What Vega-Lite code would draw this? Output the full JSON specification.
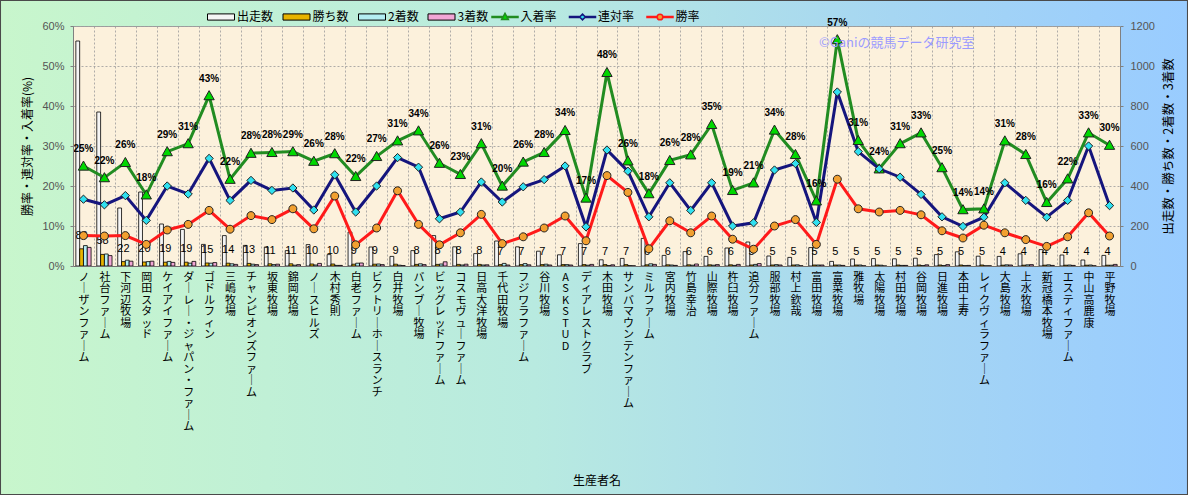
{
  "$schema": "https://vega.github.io/schema/vega-lite/v6.json",
  "width": 1047,
  "height": 240,
  "autosize": {"type": "none"},
  "padding": {"left": 73, "top": 26, "right": 68, "bottom": 229},
  "background": "#b8eae0",
  "config": {
    "view": {"fill": "#fcf1dc", "stroke": "#a0a0a0"},
    "font": "Noto Sans CJK JP",
    "text": {"font": "Noto Sans CJK JP"},
    "legend": {"labelFont": "Noto Sans CJK JP", "labelFontSize": 12, "labelColor": "#000000"},
    "axis": {"titleFont": "Noto Sans CJK JP", "labelFont": "Noto Sans CJK JP"}
  },
  "data": {
    "values": [
      {"生産者": "ノーザンファーム", "出走数": 1125, "勝ち数": 86, "2着数": 102, "3着数": 93, "勝率": 0.076, "連対率": 0.167, "入着率": 0.250},
      {"生産者": "社台ファーム", "出走数": 770, "勝ち数": 58, "2着数": 60, "3着数": 52, "勝率": 0.075, "連対率": 0.153, "入着率": 0.221},
      {"生産者": "下河辺牧場", "出走数": 290, "勝ち数": 22, "2着数": 29, "3着数": 24, "勝率": 0.076, "連対率": 0.176, "入着率": 0.259},
      {"生産者": "岡田スタッド", "出走数": 370, "勝ち数": 20, "2着数": 22, "3着数": 24, "勝率": 0.054, "連対率": 0.114, "入着率": 0.178},
      {"生産者": "ケイアイファーム", "出走数": 210, "勝ち数": 19, "2着数": 23, "3着数": 18, "勝率": 0.090, "連対率": 0.200, "入着率": 0.286},
      {"生産者": "ダーレー・ジャパン・ファーム", "出走数": 183, "勝ち数": 19, "2着数": 14, "3着数": 23, "勝率": 0.104, "連対率": 0.180, "入着率": 0.306},
      {"生産者": "ゴドルフィン", "出走数": 108, "勝ち数": 15, "2着数": 14, "3着数": 17, "勝率": 0.139, "連対率": 0.269, "入着率": 0.426},
      {"生産者": "三嶋牧場", "出走数": 152, "勝ち数": 14, "2着数": 11, "3着数": 8, "勝率": 0.092, "連対率": 0.164, "入着率": 0.217},
      {"生産者": "チャンピオンズファーム", "出走数": 103, "勝ち数": 13, "2着数": 9, "3着数": 7, "勝率": 0.126, "連対率": 0.214, "入着率": 0.282},
      {"生産者": "坂東牧場", "出走数": 95, "勝ち数": 11, "2着数": 7, "3着数": 9, "勝率": 0.116, "連対率": 0.189, "入着率": 0.284},
      {"生産者": "錦岡牧場", "出走数": 77, "勝ち数": 11, "2着数": 4, "3着数": 7, "勝率": 0.143, "連対率": 0.195, "入着率": 0.286},
      {"生産者": "ノースヒルズ", "出走数": 107, "勝ち数": 10, "2着数": 5, "3着数": 13, "勝率": 0.093, "連対率": 0.140, "入着率": 0.262},
      {"生産者": "木村 秀則", "出走数": 57, "勝ち数": 10, "2着数": 3, "3着数": 3, "勝率": 0.175, "連対率": 0.228, "入着率": 0.281},
      {"生産者": "白老ファーム", "出走数": 170, "勝ち数": 9, "2着数": 14, "3着数": 15, "勝率": 0.053, "連対率": 0.135, "入着率": 0.224},
      {"生産者": "ビクトリーホースランチ", "出走数": 95, "勝ち数": 9, "2着数": 10, "3着数": 7, "勝率": 0.095, "連対率": 0.200, "入着率": 0.274},
      {"生産者": "白井牧場", "出走数": 48, "勝ち数": 9, "2着数": 4, "3着数": 2, "勝率": 0.188, "連対率": 0.271, "入着率": 0.313},
      {"生産者": "バンブー牧場", "出走数": 77, "勝ち数": 8, "2着数": 11, "3着数": 7, "勝率": 0.104, "連対率": 0.247, "入着率": 0.338},
      {"生産者": "ビッグレッドファーム", "出走数": 152, "勝ち数": 8, "2着数": 10, "3着数": 21, "勝率": 0.053, "連対率": 0.118, "入着率": 0.257},
      {"生産者": "コスモヴューファーム", "出走数": 96, "勝ち数": 8, "2着数": 5, "3着数": 9, "勝率": 0.083, "連対率": 0.135, "入着率": 0.229},
      {"生産者": "日高大洋牧場", "出走数": 62, "勝ち数": 8, "2着数": 5, "3着数": 6, "勝率": 0.129, "連対率": 0.210, "入着率": 0.306},
      {"生産者": "千代田牧場", "出走数": 125, "勝ち数": 7, "2着数": 13, "3着数": 5, "勝率": 0.056, "連対率": 0.160, "入着率": 0.200},
      {"生産者": "フジワラファーム", "出走数": 96, "勝ち数": 7, "2着数": 12, "3着数": 6, "勝率": 0.073, "連対率": 0.198, "入着率": 0.260},
      {"生産者": "谷川牧場", "出走数": 74, "勝ち数": 7, "2着数": 9, "3着数": 5, "勝率": 0.095, "連対率": 0.216, "入着率": 0.284},
      {"生産者": "ASK STUD", "出走数": 56, "勝ち数": 7, "2着数": 7, "3着数": 5, "勝率": 0.125, "連対率": 0.250, "入着率": 0.339},
      {"生産者": "ディアレストクラブ", "出走数": 112, "勝ち数": 7, "2着数": 4, "3着数": 8, "勝率": 0.063, "連対率": 0.098, "入着率": 0.170},
      {"生産者": "木田牧場", "出走数": 31, "勝ち数": 7, "2着数": 2, "3着数": 6, "勝率": 0.226, "連対率": 0.290, "入着率": 0.484},
      {"生産者": "サンバマウンテンファーム", "出走数": 38, "勝ち数": 7, "2着数": 2, "3着数": 1, "勝率": 0.184, "連対率": 0.237, "入着率": 0.263},
      {"生産者": "ミルファーム", "出走数": 138, "勝ち数": 6, "2着数": 11, "3着数": 8, "勝率": 0.043, "連対率": 0.123, "入着率": 0.181},
      {"生産者": "宮内牧場", "出走数": 53, "勝ち数": 6, "2着数": 5, "3着数": 3, "勝率": 0.113, "連対率": 0.208, "入着率": 0.264},
      {"生産者": "竹島 幸治", "出走数": 72, "勝ち数": 6, "2着数": 4, "3着数": 10, "勝率": 0.083, "連対率": 0.139, "入着率": 0.278},
      {"生産者": "山際牧場", "出走数": 48, "勝ち数": 6, "2着数": 4, "3着数": 7, "勝率": 0.125, "連対率": 0.208, "入着率": 0.354},
      {"生産者": "杵臼牧場", "出走数": 90, "勝ち数": 6, "2着数": 3, "3着数": 8, "勝率": 0.067, "連対率": 0.100, "入着率": 0.189},
      {"生産者": "追分ファーム", "出走数": 120, "勝ち数": 5, "2着数": 8, "3着数": 12, "勝率": 0.042, "連対率": 0.108, "入着率": 0.208},
      {"生産者": "服部牧場", "出走数": 50, "勝ち数": 5, "2着数": 7, "3着数": 5, "勝率": 0.100, "連対率": 0.240, "入着率": 0.340},
      {"生産者": "村上 欽哉", "出走数": 43, "勝ち数": 5, "2着数": 6, "3着数": 1, "勝率": 0.116, "連対率": 0.256, "入着率": 0.279},
      {"生産者": "富田牧場", "出走数": 92, "勝ち数": 5, "2着数": 5, "3着数": 5, "勝率": 0.054, "連対率": 0.109, "入着率": 0.163},
      {"生産者": "富菜牧場", "出走数": 23, "勝ち数": 5, "2着数": 5, "3着数": 3, "勝率": 0.217, "連対率": 0.435, "入着率": 0.566},
      {"生産者": "雅牧場", "出走数": 35, "勝ち数": 5, "2着数": 5, "3着数": 1, "勝率": 0.143, "連対率": 0.286, "入着率": 0.314},
      {"生産者": "太陽牧場", "出走数": 37, "勝ち数": 5, "2着数": 4, "3着数": 0, "勝率": 0.135, "連対率": 0.243, "入着率": 0.243},
      {"生産者": "村田牧場", "出走数": 36, "勝ち数": 5, "2着数": 3, "3着数": 3, "勝率": 0.139, "連対率": 0.222, "入着率": 0.306},
      {"生産者": "谷岡牧場", "出走数": 39, "勝ち数": 5, "2着数": 2, "3着数": 6, "勝率": 0.128, "連対率": 0.179, "入着率": 0.333},
      {"生産者": "日進牧場", "出走数": 57, "勝ち数": 5, "2着数": 2, "3着数": 7, "勝率": 0.088, "連対率": 0.123, "入着率": 0.246},
      {"生産者": "本田 土寿", "出走数": 71, "勝ち数": 5, "2着数": 2, "3着数": 3, "勝率": 0.070, "連対率": 0.099, "入着率": 0.141},
      {"生産者": "レイクヴィラファーム", "出走数": 49, "勝ち数": 5, "2着数": 1, "3着数": 1, "勝率": 0.102, "連対率": 0.122, "入着率": 0.143},
      {"生産者": "大島牧場", "出走数": 48, "勝ち数": 4, "2着数": 6, "3着数": 5, "勝率": 0.083, "連対率": 0.208, "入着率": 0.313},
      {"生産者": "上水牧場", "出走数": 61, "勝ち数": 4, "2着数": 6, "3着数": 7, "勝率": 0.066, "連対率": 0.164, "入着率": 0.279},
      {"生産者": "新冠橋本牧場", "出走数": 82, "勝ち数": 4, "2着数": 6, "3着数": 3, "勝率": 0.049, "連対率": 0.122, "入着率": 0.159},
      {"生産者": "エスティファーム", "出走数": 55, "勝ち数": 4, "2着数": 5, "3着数": 3, "勝率": 0.073, "連対率": 0.164, "入着率": 0.218},
      {"生産者": "中山 高鹿康", "出走数": 30, "勝ち数": 4, "2着数": 5, "3着数": 1, "勝率": 0.133, "連対率": 0.300, "入着率": 0.333},
      {"生産者": "平野牧場", "出走数": 53, "勝ち数": 4, "2着数": 4, "3着数": 8, "勝率": 0.075, "連対率": 0.151, "入着率": 0.302}
    ]
  },
  "layer": [
    {
      "data": {"values": [{}]},
      "mark": {"type": "rect", "fill": {"gradient": "linear", "x1": 0, "y1": 0, "x2": 1, "y2": 0, "stops": [{"offset": 0, "color": "#c8f6cc"}, {"offset": 0.45, "color": "#b8eae0"}, {"offset": 0.75, "color": "#a6d6f2"}, {"offset": 1, "color": "#99ccff"}]}},
      "encoding": {
        "x": {"datum": -0.0698, "type": "quantitative", "scale": {"domain": [0, 1], "nice": false, "zero": false}, "axis": null},
        "x2": {"datum": 1.065},
        "y": {"datum": 1, "type": "quantitative", "scale": {"domain": [0, 1], "nice": false, "zero": false}, "axis": null},
        "y2": {"datum": 1.11}
      }
    },
    {
      "data": {"values": [{}]},
      "mark": {"type": "rect", "fill": {"gradient": "linear", "x1": 0, "y1": 0, "x2": 1, "y2": 0, "stops": [{"offset": 0, "color": "#c8f6cc"}, {"offset": 0.45, "color": "#b8eae0"}, {"offset": 0.75, "color": "#a6d6f2"}, {"offset": 1, "color": "#99ccff"}]}},
      "encoding": {
        "x": {"datum": -0.0698, "type": "quantitative", "scale": {"domain": [0, 1], "nice": false, "zero": false}, "axis": null},
        "x2": {"datum": 1.065},
        "y": {"datum": -0.955, "type": "quantitative", "scale": {"domain": [0, 1], "nice": false, "zero": false}, "axis": null},
        "y2": {"datum": 0}
      }
    },
    {
      "data": {"values": [{}]},
      "mark": {"type": "rect", "fill": {"gradient": "linear", "x1": 0, "y1": 0, "x2": 1, "y2": 0, "stops": [{"offset": 0, "color": "#c8f6cc"}, {"offset": 1, "color": "#c6f4cf"}]}},
      "encoding": {
        "x": {"datum": -0.0698, "type": "quantitative", "scale": {"domain": [0, 1], "nice": false, "zero": false}, "axis": null},
        "x2": {"datum": 0},
        "y": {"datum": 0, "type": "quantitative", "scale": {"domain": [0, 1], "nice": false, "zero": false}, "axis": null},
        "y2": {"datum": 1}
      }
    },
    {
      "data": {"values": [{}]},
      "mark": {"type": "rect", "fill": {"gradient": "linear", "x1": 0, "y1": 0, "x2": 1, "y2": 0, "stops": [{"offset": 0, "color": "#9ccefc"}, {"offset": 1, "color": "#99ccff"}]}},
      "encoding": {
        "x": {"datum": 1, "type": "quantitative", "scale": {"domain": [0, 1], "nice": false, "zero": false}, "axis": null},
        "x2": {"datum": 1.065},
        "y": {"datum": 0, "type": "quantitative", "scale": {"domain": [0, 1], "nice": false, "zero": false}, "axis": null},
        "y2": {"datum": 1}
      }
    },
    {
      "data": {"values": [{}]},
      "mark": {"type": "rect", "filled": false, "stroke": "#4a4a4a", "strokeWidth": 2},
      "encoding": {
        "x": {"datum": -0.0697, "type": "quantitative", "scale": {"domain": [0, 1], "nice": false, "zero": false}, "axis": null},
        "x2": {"datum": 1.0649},
        "y": {"datum": -0.9542, "type": "quantitative", "scale": {"domain": [0, 1], "nice": false, "zero": false}, "axis": null},
        "y2": {"datum": 1.1083}
      }
    },
    {
      "transform": [{"fold": ["出走数", "勝ち数", "2着数", "3着数"], "as": ["種別", "数"]}],
      "mark": {"type": "bar", "stroke": "#000000", "strokeWidth": 0.8},
      "encoding": {
        "x": {
          "field": "生産者", "type": "nominal", "sort": null,
          "scale": {"paddingInner": 0, "paddingOuter": 0},
          "axis": {"orient": "bottom", "grid": true, "tickBand": "extent", "gridColor": "#9a9a9a", "gridDash": [2, 2], "gridWidth": 0.8, "labels": false, "ticks": false, "domain": false, "title": null, "zindex": 0}
        },
        "xOffset": {"field": "種別", "type": "nominal", "scale": {"domain": ["出走数", "勝ち数", "2着数", "3着数"], "paddingInner": 0, "paddingOuter": 0.75}},
        "y": {
          "field": "数",
          "type": "quantitative",
          "scale": {"domain": [0, 1200]},
          "axis": {
            "orient": "right",
            "title": "出走数・勝ち数・2着数・3着数",
            "values": [0, 200, 400, 600, 800, 1000, 1200],
            "format": "d",
            "grid": false,
            "labelColor": "#555555",
            "labelFont": "Liberation Sans",
            "labelFontSize": 11,
            "labelPadding": 7,
            "tickSize": 3,
            "tickColor": "#808080",
            "domainColor": "#808080",
            "titleFontSize": 12.5,
            "titleFontWeight": "normal",
            "titleColor": "#000000",
            "titleAngle": 270,
            "titleBaseline": "top",
            "titlePadding": 8,
            "zindex": 1
          }
        },
        "fill": {
          "field": "種別",
          "type": "nominal",
          "scale": {"domain": ["出走数", "勝ち数", "2着数", "3着数"], "range": ["#f5f5f5", "#e8b400", "#b4eef2", "#f2a6d6"]},
          "legend": {
            "orient": "none",
            "legendX": 134,
            "legendY": -23,
            "direction": "horizontal",
            "title": null,
            "symbolType": "M-1,-0.23H1V0.23H-1Z",
            "symbolSize": 729,
            "symbolStrokeColor": "#000000",
            "symbolStrokeWidth": 1,
            "labelFontSize": 12,
            "labelOffset": 2,
            "columnPadding": 6.5,
            "padding": 0
          }
        }
      }
    },
    {
      "mark": {"type": "text", "baseline": "middle", "dy": -13, "fontSize": 11, "font": "Liberation Sans", "color": "#000000"},
      "encoding": {
        "x": {"field": "生産者", "type": "nominal", "sort": null, "scale": {"paddingInner": 0, "paddingOuter": 0}, "axis": null},
        "xOffset": {"datum": "勝ち数"},
        "y": {"field": "勝ち数", "type": "quantitative", "scale": {"domain": [0, 1200]}, "axis": null},
        "text": {"field": "勝ち数", "type": "quantitative"}
      }
    },
    {
      "transform": [{"fold": ["入着率", "連対率", "勝率"], "as": ["系列", "率"]}],
      "mark": {"type": "line", "strokeWidth": 3},
      "encoding": {
        "x": {
          "field": "生産者", "type": "nominal", "sort": null,
          "scale": {"paddingInner": 0, "paddingOuter": 0},
          "axis": {
            "orient": "bottom",
            "title": "生産者名",
            "titleFontSize": 12,
            "titleFontWeight": "normal",
            "titleColor": "#000000",
            "titleY": 214,
            "titleBaseline": "middle",
            "labelExpr": "split(replace(datum.label, regexp('ー', 'g'), '｜'), '')",
            "labelAngle": 0,
            "labelAlign": "center",
            "labelBaseline": "top",
            "labelFontSize": 11,
            "labelLineHeight": 11.5,
            "labelPadding": 5,
            "labelColor": "#000000",
            "labelOverlap": false,
            "labelLimit": 0,
            "ticks": false,
            "grid": false,
            "domainColor": "#707070",
            "zindex": 1
          }
        },
        "y": {
          "field": "率",
          "type": "quantitative",
          "scale": {"domain": [0, 0.6]},
          "axis": {"orient": "left", "values": [0, 0.1, 0.2, 0.3, 0.4, 0.5, 0.6], "grid": true, "gridColor": "#9a9a9a", "gridDash": [2, 2], "gridWidth": 0.8, "labels": false, "ticks": false, "domain": false, "title": null, "zindex": 0}
        },
        "stroke": {
          "field": "系列",
          "type": "nominal",
          "scale": {"domain": ["入着率", "連対率", "勝率"], "range": ["#218c21", "#15157d", "#ff1a1a"]},
          "legend": null
        },
        "order": {"value": null}
      }
    },
    {
      "transform": [{"fold": ["入着率", "連対率", "勝率"], "as": ["系列2", "率"]}],
      "mark": {"type": "point", "filled": true, "size": 1100, "stroke": "#202020", "strokeWidth": 1, "opacity": 1},
      "encoding": {
        "x": {"field": "生産者", "type": "nominal", "sort": null, "scale": {"paddingInner": 0, "paddingOuter": 0}, "axis": null},
        "y": {
          "field": "率",
          "type": "quantitative",
          "scale": {"domain": [0, 0.6]},
          "axis": {
            "orient": "left",
            "title": "勝率・連対率・入着率(%)",
            "format": ".0%",
            "values": [0, 0.1, 0.2, 0.3, 0.4, 0.5, 0.6],
            "grid": false,
            "labelColor": "#555555",
            "labelFont": "Liberation Sans",
            "labelFontSize": 11,
            "labelPadding": 6,
            "tickSize": 3,
            "tickColor": "#808080",
            "domainColor": "#808080",
            "titleFontSize": 12,
            "titleFontWeight": "normal",
            "titleColor": "#000000",
            "titleAngle": 270,
            "titleBaseline": "bottom",
            "titlePadding": 7,
            "zindex": 1
          }
        },
        "shape": {
          "field": "系列2",
          "type": "nominal",
          "scale": {
            "domain": ["入着率", "連対率", "勝率"],
            "range": ["M0,-0.3L0.31,0.25L-0.31,0.25Z", "M0,-0.25L0.25,0L0,0.25L-0.25,0Z", "M0.24,0A0.24,0.24,0,1,1,-0.24,0A0.24,0.24,0,1,1,0.24,0Z"]
          },
          "legend": null
        },
        "fill": {
          "field": "系列2",
          "type": "nominal",
          "scale": {"domain": ["入着率", "連対率", "勝率"], "range": ["#00d800", "#30e0f0", "#f2a030"]},
          "legend": null
        }
      }
    },
    {
      "mark": {"type": "text", "baseline": "middle", "dy": -17, "fontSize": 10, "fontWeight": "bold", "font": "Liberation Sans", "color": "#000000"},
      "encoding": {
        "x": {"field": "生産者", "type": "nominal", "sort": null, "scale": {"paddingInner": 0, "paddingOuter": 0}, "axis": null},
        "y": {"field": "入着率", "type": "quantitative", "scale": {"domain": [0, 0.6]}, "axis": null},
        "text": {"field": "入着率", "type": "quantitative", "format": ".0%"}
      }
    },
    {
      "transform": [{"fold": ["入着率", "連対率", "勝率"], "as": ["凡例", "率"]}, {"filter": "false"}],
      "mark": {"type": "point", "filled": true, "strokeWidth": 1.5, "opacity": 1},
      "encoding": {
        "x": {"field": "生産者", "type": "nominal", "sort": null, "axis": null},
        "y": {"field": "率", "type": "quantitative", "scale": {"domain": [0, 0.6]}, "axis": null},
        "shape": {
          "field": "凡例",
          "type": "nominal",
          "scale": {
            "domain": ["入着率", "連対率", "勝率"],
            "range": [
              "M-1,-0.04H-0.16V0.04H-1Z M0.16,-0.04H1V0.04H0.16Z M0,-0.28L0.26,0.2L-0.26,0.2Z",
              "M-1,-0.04H-0.22V0.04H-1Z M0.22,-0.04H1V0.04H0.22Z M0,-0.22L0.22,0L0,0.22L-0.22,0Z",
              "M-1,-0.04H-0.22V0.04H-1Z M0.22,-0.04H1V0.04H0.22Z M0.22,0A0.22,0.22,0,1,1,-0.22,0A0.22,0.22,0,1,1,0.22,0Z"
            ]
          },
          "legend": {
            "orient": "none", "legendX": 418, "legendY": -23, "direction": "horizontal", "title": null,
            "symbolSize": 676, "symbolStrokeWidth": 1.5, "labelFontSize": 12, "labelOffset": 1.5, "columnPadding": 9.5, "padding": 0
          }
        },
        "stroke": {
          "field": "凡例",
          "type": "nominal",
          "scale": {"domain": ["入着率", "連対率", "勝率"], "range": ["#218c21", "#15157d", "#ff1a1a"]},
          "legend": {
            "orient": "none", "legendX": 418, "legendY": -23, "direction": "horizontal", "title": null,
            "symbolSize": 676, "symbolStrokeWidth": 1.5, "labelFontSize": 12, "labelOffset": 1.5, "columnPadding": 9.5, "padding": 0
          }
        },
        "fill": {
          "field": "凡例",
          "type": "nominal",
          "scale": {"domain": ["入着率", "連対率", "勝率"], "range": ["#00d800", "#30e0f0", "#f2a030"]},
          "legend": {
            "orient": "none", "legendX": 418, "legendY": -23, "direction": "horizontal", "title": null,
            "symbolSize": 676, "symbolStrokeWidth": 1.5, "labelFontSize": 12, "labelOffset": 1.5, "columnPadding": 9.5, "padding": 0
          }
        }
      }
    },
    {
      "data": {"values": [{"wm": "©Ganiの競馬データ研究室"}]},
      "mark": {"type": "text", "align": "left", "baseline": "middle", "fontSize": 13, "color": "#9b9bff"},
      "encoding": {
        "x": {"datum": 0.7125, "type": "quantitative", "scale": {"domain": [0, 1], "nice": false, "zero": false}, "axis": null},
        "y": {"datum": 0.5575, "type": "quantitative", "scale": {"domain": [0, 0.6]}, "axis": null},
        "text": {"field": "wm"}
      }
    }
  ],
  "resolve": {
    "scale": {"x": "independent", "y": "independent", "fill": "independent", "shape": "independent", "stroke": "independent"},
    "legend": {"fill": "independent", "shape": "independent", "stroke": "independent"}
  }
}
